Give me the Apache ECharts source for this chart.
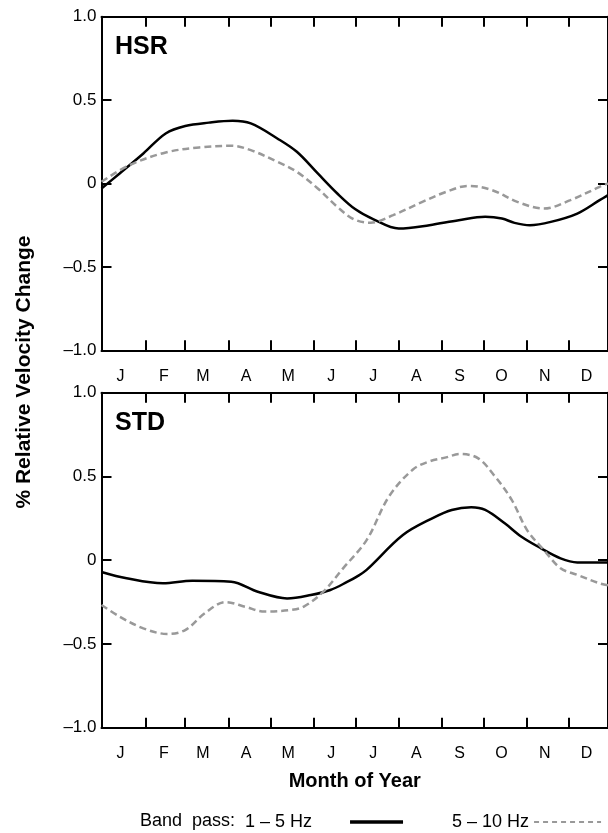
<!DOCTYPE html>
<html><head><meta charset="utf-8">
<script src="https://cdn.jsdelivr.net/npm/echarts@6/dist/echarts.min.js"></script>
<style>html,body{margin:0;padding:0;background:#fff}#c{width:608px;height:833px}</style>
</head><body><div id="c"></div>
<script>
// ---- data ----
const months = ['J','F','M','A','M','J','J','A','S','O','N','D'];
const monthStarts = [0,31,59,90,120,151,181,212,243,273,304,334];
const yTickValues = [-1,-0.5,0,0.5,1];
const yTickLabels = ['\u20131.0','\u20130.5','0','0.5','1.0'];
const panelNames = ['HSR','STD'];
const bandNames = ['1 \u2013 5 Hz','5 \u2013 10 Hz'];

const hsrLowDays = [-1,12,29,45,59,76,93,106,125,139,154,168,181,194,212,234,255,274,286,295,306,321,340,356,362];
const hsrLow     = [-0.03,0.06,0.18,0.30,0.345,0.365,0.376,0.36,0.27,0.19,0.06,-0.06,-0.155,-0.215,-0.27,-0.25,-0.22,-0.20,-0.21,-0.236,-0.25,-0.23,-0.18,-0.10,-0.07];
const hsrHighDays = [-1,19,45,69,92,106,125,139,154,168,180,192,208,229,246,262,279,297,316,335,356,362];
const hsrHigh     = [0.01,0.11,0.186,0.216,0.226,0.20,0.13,0.07,-0.03,-0.14,-0.215,-0.235,-0.19,-0.11,-0.05,-0.014,-0.04,-0.11,-0.15,-0.10,-0.02,0.0];
const stdLowDays = [-1,17,43,64,92,111,132,149,163,175,182,189,215,236,250,264,274,288,300,314,328,340,356,362];
const stdLow     = [-0.07,-0.108,-0.138,-0.122,-0.128,-0.188,-0.228,-0.208,-0.178,-0.13,-0.098,-0.058,0.15,0.25,0.30,0.316,0.30,0.22,0.14,0.071,0.011,-0.013,-0.013,-0.013];
const stdHighDays = [-1,12,29,46,59,73,88,102,116,135,144,158,172,189,205,222,234,246,256,269,281,293,304,316,328,340,356,362];
const stdHigh     = [-0.267,-0.337,-0.407,-0.44,-0.417,-0.317,-0.25,-0.278,-0.307,-0.297,-0.277,-0.188,-0.05,0.12,0.38,0.54,0.59,0.614,0.634,0.608,0.50,0.36,0.18,0.061,-0.048,-0.088,-0.138,-0.15];

// ---- chart ----
const FONT = '"Liberation Sans", Arial, Helvetica, sans-serif';
const zip = (xs, ys) => xs.map((x, i) => [x, ys[i]]);
const labelPos = monthStarts.map(d => d + 12.7);
const monthOf = v => months[monthStarts.filter(s => s <= v).length - 1];
const yLabel = v => { const i = yTickValues.findIndex(t => Math.abs(t - v) < 1e-6); return i >= 0 ? yTickLabels[i] : ''; };

const AX = {color:'#000', width:2};
const grids = [
  {left:101.5, top:16.7, width:513.1, height:333.6},
  {left:101.5, top:392.7, width:513.1, height:335}
];
const xAxes = [], yAxes = [];
grids.forEach((g, gi) => {
  ['bottom','top'].forEach(pos => {
    xAxes.push({
      type:'value', gridIndex:gi, position:pos, min:-1, max:362,
      axisLine:{show:true, onZero:false, lineStyle:AX},
      axisTick:{show:true, inside:true, length:10, lineStyle:AX, customValues:monthStarts.slice(1)},
      axisLabel:{show:pos==='bottom', customValues:labelPos, formatter:monthOf, margin:18,
        color:'#000', fontSize:16, fontFamily:FONT},
      splitLine:{show:false},
      name: (gi===1 && pos==='bottom') ? 'Month of Year' : '',
      nameLocation:'middle', nameGap:44,
      nameTextStyle:{color:'#000', fontSize:20, fontWeight:'bold', fontFamily:FONT}
    });
  });
  ['left','right'].forEach(pos => {
    yAxes.push({
      type:'value', gridIndex:gi, position:pos, min:-1, max:1, interval:0.5,
      axisLine:{show:true, onZero:false, lineStyle:AX},
      axisTick:{show:true, inside:true, length:10, lineStyle:AX},
      axisLabel:{show:pos==='left', formatter:yLabel, margin:5, color:'#000', fontSize:17, fontFamily:FONT},
      splitLine:{show:false}
    });
  });
});

const mk = (name, gi, xs, ys, dashed) => ({
  name, type:'line', xAxisIndex:gi*2, yAxisIndex:gi*2, data:zip(xs, ys),
  showSymbol:false, symbol:'none', smooth:0.35, silent:true, animation:false,
  lineStyle: dashed ? {color:'#999', width:2.5, type:[7,4]} : {color:'#000', width:2.5},
  itemStyle:{color: dashed ? '#999' : '#000'}
});

const option = {
  animation:false,
  grid:grids,
  xAxis:xAxes,
  yAxis:yAxes,
  legend:[
    {data:[bandNames[0]], left:240, top:808, align:'right', itemWidth:53, itemHeight:14, itemGap:0,
     selectedMode:false, itemStyle:{color:'transparent', borderWidth:0, opacity:0},
     lineStyle:{color:'#000', width:3.5},
     textStyle:{color:'#000', fontSize:18, fontFamily:FONT, padding:[0,33,0,0]}},
    {data:[bandNames[1]], left:447, top:808, align:'right', itemWidth:67, itemHeight:14, itemGap:0,
     selectedMode:false, itemStyle:{color:'transparent', borderWidth:0, opacity:0},
     lineStyle:{color:'#999', width:2, type:[5,4]},
     textStyle:{color:'#000', fontSize:18, fontFamily:FONT, padding:[0,0,0,0]}}
  ],
  graphic:[
    {type:'text', x:115, y:47.5, style:{text:panelNames[0], font:'bold 25px '+FONT, fill:'#000', verticalAlign:'middle'}},
    {type:'text', x:115, y:423.5, style:{text:panelNames[1], font:'bold 25px '+FONT, fill:'#000', verticalAlign:'middle'}},
    {type:'text', x:24, y:372, rotation:Math.PI/2,
     style:{text:'% Relative Velocity Change', font:'bold 21px '+FONT, fill:'#000', align:'center', verticalAlign:'middle'}},
    {type:'text', x:140, y:821, style:{text:'Band  pass:', font:'18px '+FONT, fill:'#000', verticalAlign:'middle'}}
  ],
  series:[
    mk(bandNames[0], 0, hsrLowDays, hsrLow, false),
    mk(bandNames[1], 0, hsrHighDays, hsrHigh, true),
    mk(bandNames[0], 1, stdLowDays, stdLow, false),
    mk(bandNames[1], 1, stdHighDays, stdHigh, true)
  ]
};
const chart = echarts.init(document.getElementById('c'), null, {renderer:'canvas'});
chart.setOption(option);
</script>
</body></html>
